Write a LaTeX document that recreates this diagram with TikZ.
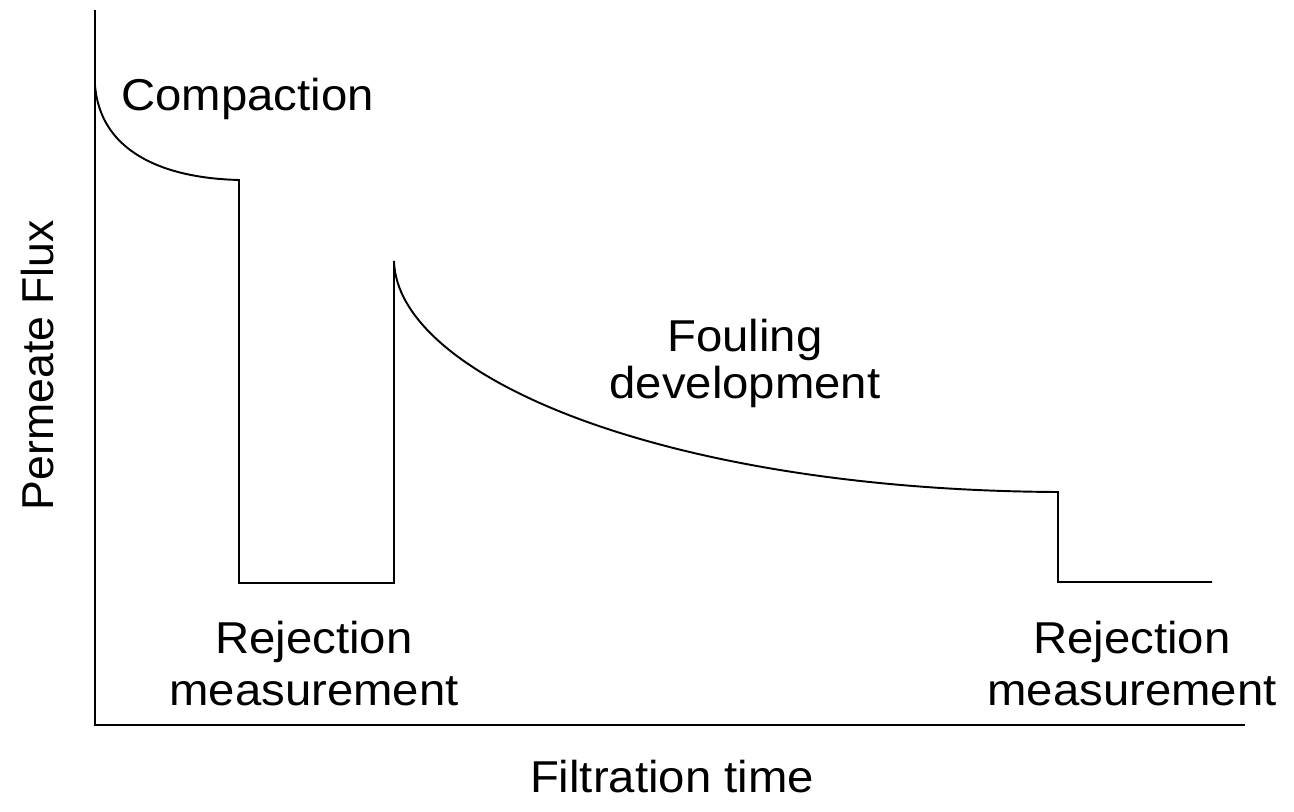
\documentclass[tikz,border=0pt]{standalone}
\usepackage{fontspec}
\setmainfont[FakeStretch=1.06]{Liberation Sans}
\newfontfamily\plainsans{Liberation Sans}
\begin{document}
\begin{tikzpicture}[x=0.02cm,y=-0.02cm,
  line/.style={line width=1.1pt,line join=miter},
  lbl/.style={font=\fontsize{25.4}{29.6}\selectfont,inner sep=0pt,align=center}]
\useasboundingbox (0,0) rectangle (1294,811);
% axes
\coordinate (ytop) at (95,10);
\coordinate (origin) at (95,725);
\coordinate (xend) at (1245,725);
\draw[line] (ytop) -- (origin) -- (xend);
% flux curve
\coordinate (c0) at (95,85);
\coordinate (c1) at (239,180);
\coordinate (c2) at (239,583);
\coordinate (c3) at (394,583);
\coordinate (c4) at (394,261);
\coordinate (c5) at (1058,492);
\coordinate (c6) at (1058,582);
\coordinate (c7) at (1212,582);
\draw[line] (c0) .. controls (100,150) and (160,178) .. (c1) -- (c2) -- (c3) -- (c4)
  .. controls (397,375) and (660,490) .. (c5) -- (c6) -- (c7);
% labels
\node[lbl,anchor=base west] (comp) at (121,111) {Compaction};
\node[lbl,anchor=base,font=\fontsize{25.4}{26.2}\selectfont] (foul) at (745,398) {Fouling\\development};
\node[lbl,anchor=base] (rej1) at (314,705) {Rejection\\measurement};
\node[lbl,anchor=base] (rej2) at (1132,705) {Rejection\\measurement};
\node[lbl,anchor=base] (xlab) at (672,792) {Filtration time};
\node[lbl,anchor=base,rotate=90,font=\plainsans\fontsize{25.4}{29.6}\selectfont] (ylab) at (53,365) {Permeate Flux};
\end{tikzpicture}
\end{document}
